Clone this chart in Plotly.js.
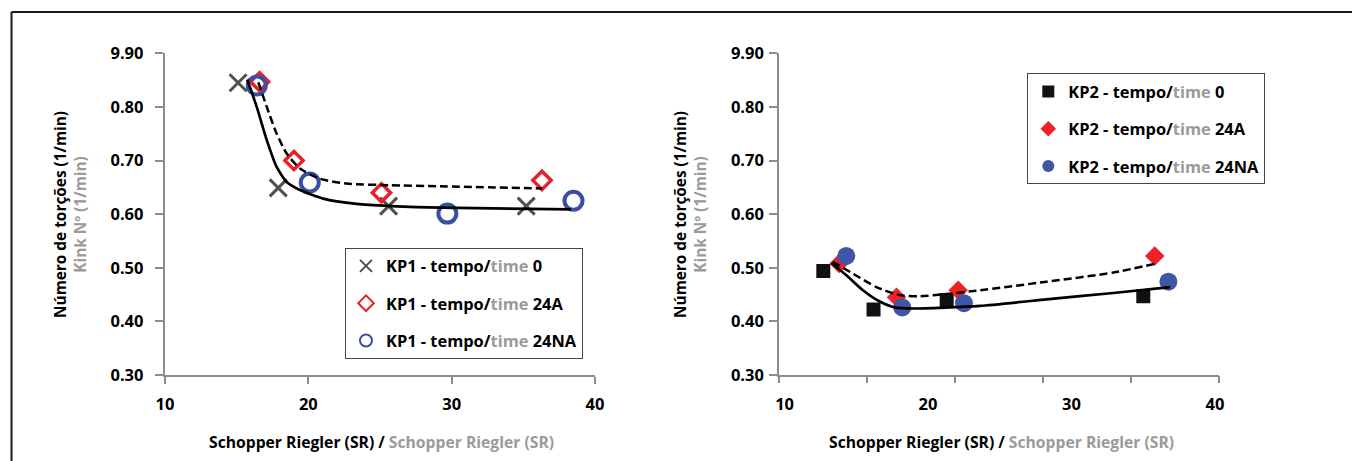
<!DOCTYPE html>
<html>
<head>
<meta charset="utf-8">
<script src="https://cdn.plot.ly/plotly-3.0.1.min.js"></script>
<style>
html,body{margin:0;padding:0;background:#fff;}
#chart{width:1352px;height:461px;}
</style>
</head>
<body>
<div id="chart"></div>
<script>
// ---- Data ----
const xTickVals = [10, 20, 30, 40];
const xTickText = ['10', '20', '30', '40'];
const yTickVals = [0.3, 0.4, 0.5, 0.6, 0.7, 0.8, 0.9];
const yTickText = ['0.30', '0.40', '0.50', '0.60', '0.70', '0.80', '9.90'];

// KP1 (left chart)
const kp1SR_t0 = [15.1, 17.9, 25.6, 35.2];
const kp1K_t0 = [0.845, 0.649, 0.615, 0.615];
const kp1SR_24A = [16.6, 19.0, 25.1, 36.3];
const kp1K_24A = [0.847, 0.700, 0.640, 0.663];
const kp1SR_24NA = [16.4, 20.1, 29.7, 38.5];
const kp1K_24NA = [0.840, 0.659, 0.601, 0.625];
// KP1 trend lines
const kp1SolidX = [15.74, 16.40, 17.10, 17.79, 18.49, 19.42, 21.04, 23.37, 25.70, 29.19, 38.33];
const kp1SolidY = [0.851, 0.800, 0.738, 0.688, 0.660, 0.645, 0.629, 0.619, 0.615, 0.612, 0.609];
const kp1DashX = [16.51, 17.10, 17.79, 18.49, 19.42, 20.81, 22.68, 25.70, 29.19, 36.32];
const kp1DashY = [0.846, 0.800, 0.750, 0.713, 0.685, 0.666, 0.657, 0.654, 0.652, 0.648];

// KP2 (right chart)
const kp2SR_t0 = [12.7, 16.2, 21.3, 35.0];
const kp2K_t0 = [0.494, 0.422, 0.440, 0.447];
const kp2SR_24A = [13.8, 17.8, 22.1, 35.8];
const kp2K_24A = [0.508, 0.445, 0.458, 0.522];
const kp2SR_24NA = [14.3, 18.2, 22.5, 36.75];
const kp2K_24NA = [0.522, 0.426, 0.434, 0.474];
// KP2 trend lines
const kp2SolidX = [13.26, 14.31, 15.46, 16.63, 17.68, 18.95, 23.61, 28.26, 32.91, 36.87];
const kp2SolidY = [0.509, 0.486, 0.458, 0.437, 0.426, 0.424, 0.429, 0.441, 0.453, 0.464];
const kp2DashX = [13.37, 14.77, 16.40, 18.03, 19.42, 21.28, 23.61, 28.26, 32.91, 35.94];
const kp2DashY = [0.511, 0.489, 0.464, 0.449, 0.447, 0.451, 0.458, 0.474, 0.491, 0.508];

// ---- Styling ----
const W = 1352, H = 461;
const FONT = 'Open Sans, Liberation Sans, sans-serif';
const AX = '#8c8c8c';
const GRAY_TXT = '#9a9a9a';
const px = v => v / W;
const py = v => 1 - v / H;

function legName(kp, s) {
  return '<b>' + kp + ' - tempo/</b><span style="color:' + GRAY_TXT + '"><b>time</b></span><b> ' + s + '</b>';
}

const traces = [
  {x: kp1SR_t0, y: kp1K_t0, type: 'scatter', mode: 'markers', xaxis: 'x', yaxis: 'y',
   name: legName('KP1', '0'), legend: 'legend', legendgroup: 'a0',
   marker: {symbol: 'x-thin-open', size: 17, color: '#505050', line: {width: 3, color: '#505050'}}},
  {x: kp1SR_24A, y: kp1K_24A, type: 'scatter', mode: 'markers', xaxis: 'x', yaxis: 'y',
   name: legName('KP1', '24A'), legend: 'legend', legendgroup: 'a1',
   marker: {symbol: 'diamond-open', size: 14, color: '#e8202a', line: {width: 3.5, color: '#e8202a'}}},
  {x: kp1SR_24NA, y: kp1K_24NA, type: 'scatter', mode: 'markers', xaxis: 'x', yaxis: 'y',
   name: legName('KP1', '24NA'), legend: 'legend', legendgroup: 'a2',
   marker: {symbol: 'circle-open', size: 18, color: '#3a4ea2', line: {width: 4, color: '#3a4ea2'}}},
  {x: kp1SolidX, y: kp1SolidY, type: 'scatter', mode: 'lines', xaxis: 'x', yaxis: 'y', showlegend: false,
   line: {color: '#000', width: 2.7, shape: 'spline', smoothing: 0.6}},
  {x: kp1DashX, y: kp1DashY, type: 'scatter', mode: 'lines', xaxis: 'x', yaxis: 'y', showlegend: false,
   line: {color: '#000', width: 2.5, dash: '8px,4px', shape: 'spline', smoothing: 0.6}},

  {x: kp2SR_t0, y: kp2K_t0, type: 'scatter', mode: 'markers', xaxis: 'x2', yaxis: 'y2',
   name: legName('KP2', '0'), legend: 'legend2', legendgroup: 'b0',
   marker: {symbol: 'square', size: 14, color: '#111'}},
  {x: kp2SR_24A, y: kp2K_24A, type: 'scatter', mode: 'markers', xaxis: 'x2', yaxis: 'y2',
   name: legName('KP2', '24A'), legend: 'legend2', legendgroup: 'b1',
   marker: {symbol: 'diamond', size: 15, color: '#ee2226'}},
  {x: kp2SR_24NA, y: kp2K_24NA, type: 'scatter', mode: 'markers', xaxis: 'x2', yaxis: 'y2',
   name: legName('KP2', '24NA'), legend: 'legend2', legendgroup: 'b2',
   marker: {symbol: 'circle', size: 18, color: '#3d56a6'}},
  {x: kp2SolidX, y: kp2SolidY, type: 'scatter', mode: 'lines', xaxis: 'x2', yaxis: 'y2', showlegend: false,
   line: {color: '#000', width: 2.7, shape: 'spline', smoothing: 0.6}},
  {x: kp2DashX, y: kp2DashY, type: 'scatter', mode: 'lines', xaxis: 'x2', yaxis: 'y2', showlegend: false,
   line: {color: '#000', width: 2.5, dash: '8px,4px', shape: 'spline', smoothing: 0.6}}
];

const x2Range = [9.64, 40.29];
const x3Ticks = [0, 1, 2, 3, 4, 5].map(i => x2Range[0] + i * (x2Range[1] - x2Range[0]) / 5);

const tickFont = {family: FONT, size: 16.5, color: '#000', weight: 'bold'};
const yDomain = [py(375), py(53.3)];

function yAxis(anchor, standoff) {
  return {
    domain: yDomain, range: [0.3, 0.9], anchor: anchor,
    tickvals: yTickVals, ticktext: yTickText,
    ticks: 'outside', ticklen: 8, tickwidth: 2, tickcolor: AX,
    showline: true, linecolor: AX, linewidth: 2.2,
    showgrid: false, zeroline: false, tickfont: tickFont,
    ticklabelstandoff: standoff, fixedrange: true
  };
}

const legendBase = {
  bgcolor: '#fff', bordercolor: '#444', borderwidth: 1,
  font: {family: FONT, size: 16.4, color: '#000'},
  tracegroupgap: 13, itemsizing: 'constant',
  xanchor: 'left', yanchor: 'top'
};

const ann = [];
function addTitles(cx, ycx) {
  ann.push({
    xref: 'paper', yref: 'paper', x: px(cx), y: py(441.7), xanchor: 'center', yanchor: 'middle',
    showarrow: false, font: {family: FONT, size: 15.7, color: '#000'},
    text: '<b>Schopper Riegler (SR) / </b><span style="color:' + GRAY_TXT + '"><b>Schopper Riegler (SR)</b></span>'
  });
  ann.push({
    xref: 'paper', yref: 'paper', x: px(ycx), y: py(215), xanchor: 'center', yanchor: 'middle',
    showarrow: false, textangle: -90, font: {family: FONT, size: 15.4, color: '#000'},
    text: '<b>Número de torções (1/min)</b><br><span style="color:' + GRAY_TXT + '"><b>Kink Nº (1/min)</b></span>'
  });
}
addTitles(381, 71);
addTitles(1001, 691);

const layout = {
  width: W, height: H,
  margin: {l: 0, r: 0, t: 0, b: 0},
  paper_bgcolor: '#fff', plot_bgcolor: 'rgba(0,0,0,0)',
  showlegend: true,
  xaxis: {
    domain: [px(165), px(595)], range: [10, 40], anchor: 'y',
    tickvals: xTickVals, ticktext: xTickText,
    ticks: 'outside', ticklen: 7, tickwidth: 2, tickcolor: AX,
    showline: true, linecolor: AX, linewidth: 2.2,
    showgrid: false, zeroline: false, tickfont: tickFont, ticklabelstandoff: 6, fixedrange: true
  },
  yaxis: yAxis('x', 8),
  xaxis2: {
    domain: [px(779.4), px(1219.2)], range: x2Range, anchor: 'y2',
    tickvals: xTickVals, ticktext: xTickText,
    ticks: 'outside', ticklen: 7, tickwidth: 2, tickcolor: 'rgba(0,0,0,0)',
    showline: true, linecolor: AX, linewidth: 2.2,
    showgrid: false, zeroline: false, tickfont: tickFont, ticklabelstandoff: 6, fixedrange: true
  },
  xaxis3: {
    overlaying: 'x2', range: x2Range, anchor: 'y2',
    tickvals: x3Ticks, showticklabels: false,
    ticks: 'outside', ticklen: 7, tickwidth: 2, tickcolor: AX,
    showline: false, showgrid: false, zeroline: false, fixedrange: true
  },
  yaxis2: yAxis('x2', 2),
  legend: Object.assign({}, legendBase, {x: px(345), y: py(247.7)}),
  legend2: Object.assign({}, legendBase, {x: px(1027.3), y: py(73.3)}),
  annotations: ann,
  shapes: [
    {type: 'line', xref: 'paper', yref: 'paper', x0: px(11.5), x1: 1, y0: py(12), y1: py(12),
     line: {color: '#1a1a1a', width: 2}},
    {type: 'line', xref: 'paper', yref: 'paper', x0: px(11.5), x1: px(11.5), y0: py(12), y1: 0,
     line: {color: '#1a1a1a', width: 2}}
  ]
};

// empty helper trace so the tick-only overlay axis (xaxis3) is rendered
traces.push({x: [], y: [], type: 'scatter', mode: 'markers', xaxis: 'x3', yaxis: 'y2', showlegend: false, hoverinfo: 'skip'});

Plotly.newPlot('chart', traces, layout, {displayModeBar: false, staticPlot: true});
</script>
</body>
</html>
